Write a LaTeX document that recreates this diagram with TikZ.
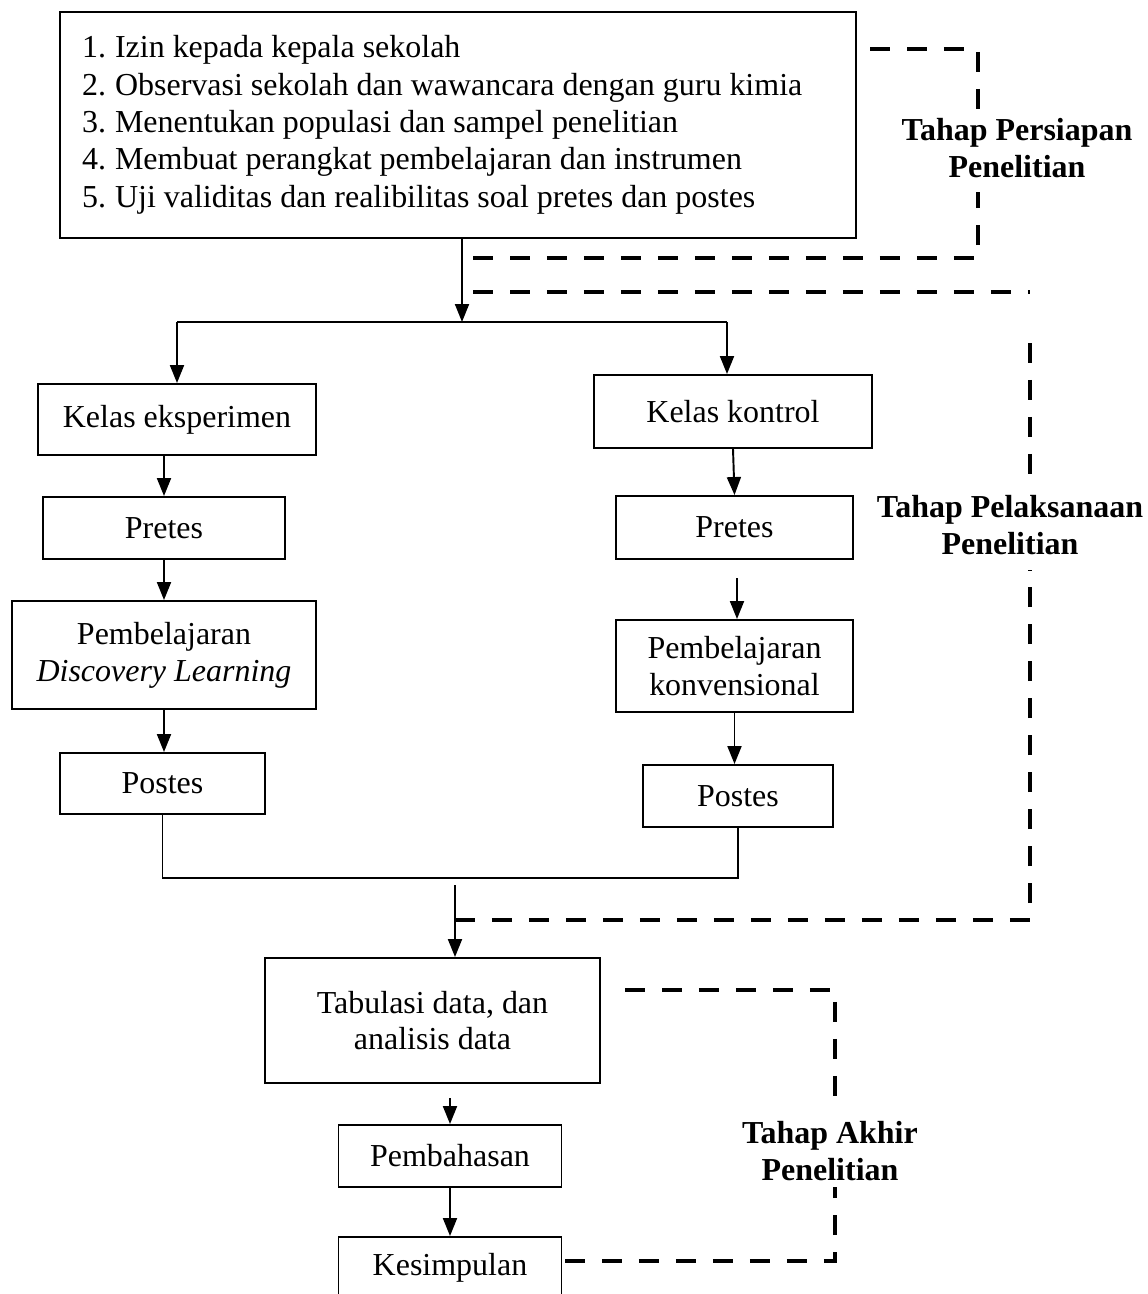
\documentclass[tikz,border=0pt]{standalone}
\usepackage{fontspec}
\setmainfont{Liberation Serif}
\usetikzlibrary{arrows.meta}
\begin{document}
\begin{tikzpicture}[x=0.02cm,y=-0.02cm,
 box/.style={draw, line width=1.1pt, inner sep=0pt, align=center, font=\fontsize{18.2pt}{20.9pt}\selectfont},
 arr/.style={line width=1.1pt, -{Triangle[length=0.36cm,width=0.28cm]}},
 conn/.style={line width=1.1pt},
 phase/.style={line width=2.5pt, dash pattern=on 0.4cm off 0.34cm},
 lbl/.style={inner sep=1pt, align=center, font=\fontsize{18.2pt}{20.6pt}\selectfont\bfseries}]
\useasboundingbox (0,0) rectangle (1148,1294);

% top box
\node[box, minimum width=15.92cm, minimum height=4.52cm] (top) at (458,125)
 {\raisebox{0.2cm}{\makebox[15.92cm][l]{\hspace{0.44cm}\fontsize{18.2pt}{21.3pt}\selectfont\begin{tabular}{@{}p{0.66cm}@{}l@{}}
 1. & Izin kepada kepala sekolah\\
 2. & Observasi sekolah dan wawancara dengan guru kimia\\
 3. & Menentukan populasi dan sampel penelitian\\
 4. & Membuat perangkat pembelajaran dan instrumen\\
 5. & Uji validitas dan realibilitas soal pretes dan postes
 \end{tabular}}}};

% left column
\node[box, minimum width=5.56cm, minimum height=1.42cm] (kE) at (177,419.5) {Kelas eksperimen};
\node[box, minimum width=4.84cm, minimum height=1.24cm] (pE) at (164,528) {Pretes};
\node[box, minimum width=6.08cm, minimum height=2.16cm] (dE) at (164,655) {Pembelajaran\\\textit{Discovery Learning}};
\node[box, minimum width=4.10cm, minimum height=1.22cm] (poE) at (162.5,783.5) {Postes};

% right column
\node[box, minimum width=5.56cm, minimum height=1.46cm] (kK) at (733,411.5) {Kelas kontrol};
\node[box, minimum width=4.74cm, minimum height=1.26cm] (pK) at (734.5,527.5) {Pretes};
\node[box, minimum width=4.74cm, minimum height=1.84cm] (dK) at (734.5,666) {Pembelajaran\\konvensional};
\node[box, minimum width=3.80cm, minimum height=1.24cm] (poK) at (738,796) {Postes};

% bottom
\node[box, minimum width=6.70cm, minimum height=2.50cm] (tab) at (432.5,1020.5) {Tabulasi data, dan\\analisis data};
\node[box, minimum width=4.46cm, minimum height=1.24cm] (bah) at (450,1156) {Pembahasan};
\node[box, minimum width=4.46cm, minimum height=1.24cm] (kes) at (450,1268) {Kesimpulan};

% connectors
\coordinate (split) at (462,322);
\coordinate (jl) at (177,322);
\coordinate (jr) at (727,322);
\draw[arr] (top.south -| split) -- (split);
\draw[conn] (jl) -- (jr);
\draw[arr] (jl) -- (jl |- kE.north);
\draw[arr] (jr) -- (jr |- kK.north);

\draw[arr] (kE.south -| pE.north) -- (pE.north);
\draw[arr] (pE.south) -- (dE.north);
\draw[arr] (dE.south) -- (poE.north -| dE.south);

\draw[arr] (kK.south) -- (pK.north);
\coordinate (pk2) at (737,578);
\draw[arr] (pk2) -- (pk2 |- dK.north);
\draw[arr] (dK.south) -- (dK.south |- poK.north);

\draw[conn] (poE.south) -- ++(0,63) -| (poK.south);
\coordinate (m) at (455,885);
\draw[arr] (m) -- (m |- tab.north);
\coordinate (t2) at (450,1098);
\draw[arr] (t2) -- (bah.north);
\draw[arr] (bah.south) -- (kes.north);

% phase brackets
\coordinate (a1) at (870,49);
\coordinate (a2) at (978,49);
\coordinate (a2b) at (978,112);
\coordinate (a3a) at (978,192);
\coordinate (a3) at (978,258);
\coordinate (a4) at (473,258);
\draw[phase] (a1) -- (a2) -- (a2b);
\draw[phase] (a4) -- (a3) -- (a3a);

\coordinate (b1) at (473,292);
\coordinate (b2) at (1030,292);
\coordinate (b3) at (1030,343);
\coordinate (b3b) at (1030,478);
\coordinate (b4a) at (1030,570);
\coordinate (b4) at (1030,920);
\coordinate (b5) at (455,920);
\draw[phase] (b1) -- (b2);
\draw[phase] (b3) -- (b3b);
\draw[phase] (b5) -- (b4) -- (b4a);

\coordinate (c1) at (625,990);
\coordinate (c2) at (835,990);
\coordinate (c2b) at (835,1097);
\coordinate (c3a) at (835,1187);
\coordinate (c3) at (835,1261);
\coordinate (c4) at (565,1261);
\draw[phase] (c1) -- (c2) -- (c2b);
\draw[phase] (c4) -- (c3) -- (c3a);

\node[lbl] (l1) at (1017,148) {Tahap Persiapan\\Penelitian};
\node[lbl] (l2) at (1010,525) {Tahap Pelaksanaan\\Penelitian};
\node[lbl] (l3) at (830,1151) {Tahap Akhir\\Penelitian};
\end{tikzpicture}
\end{document}
